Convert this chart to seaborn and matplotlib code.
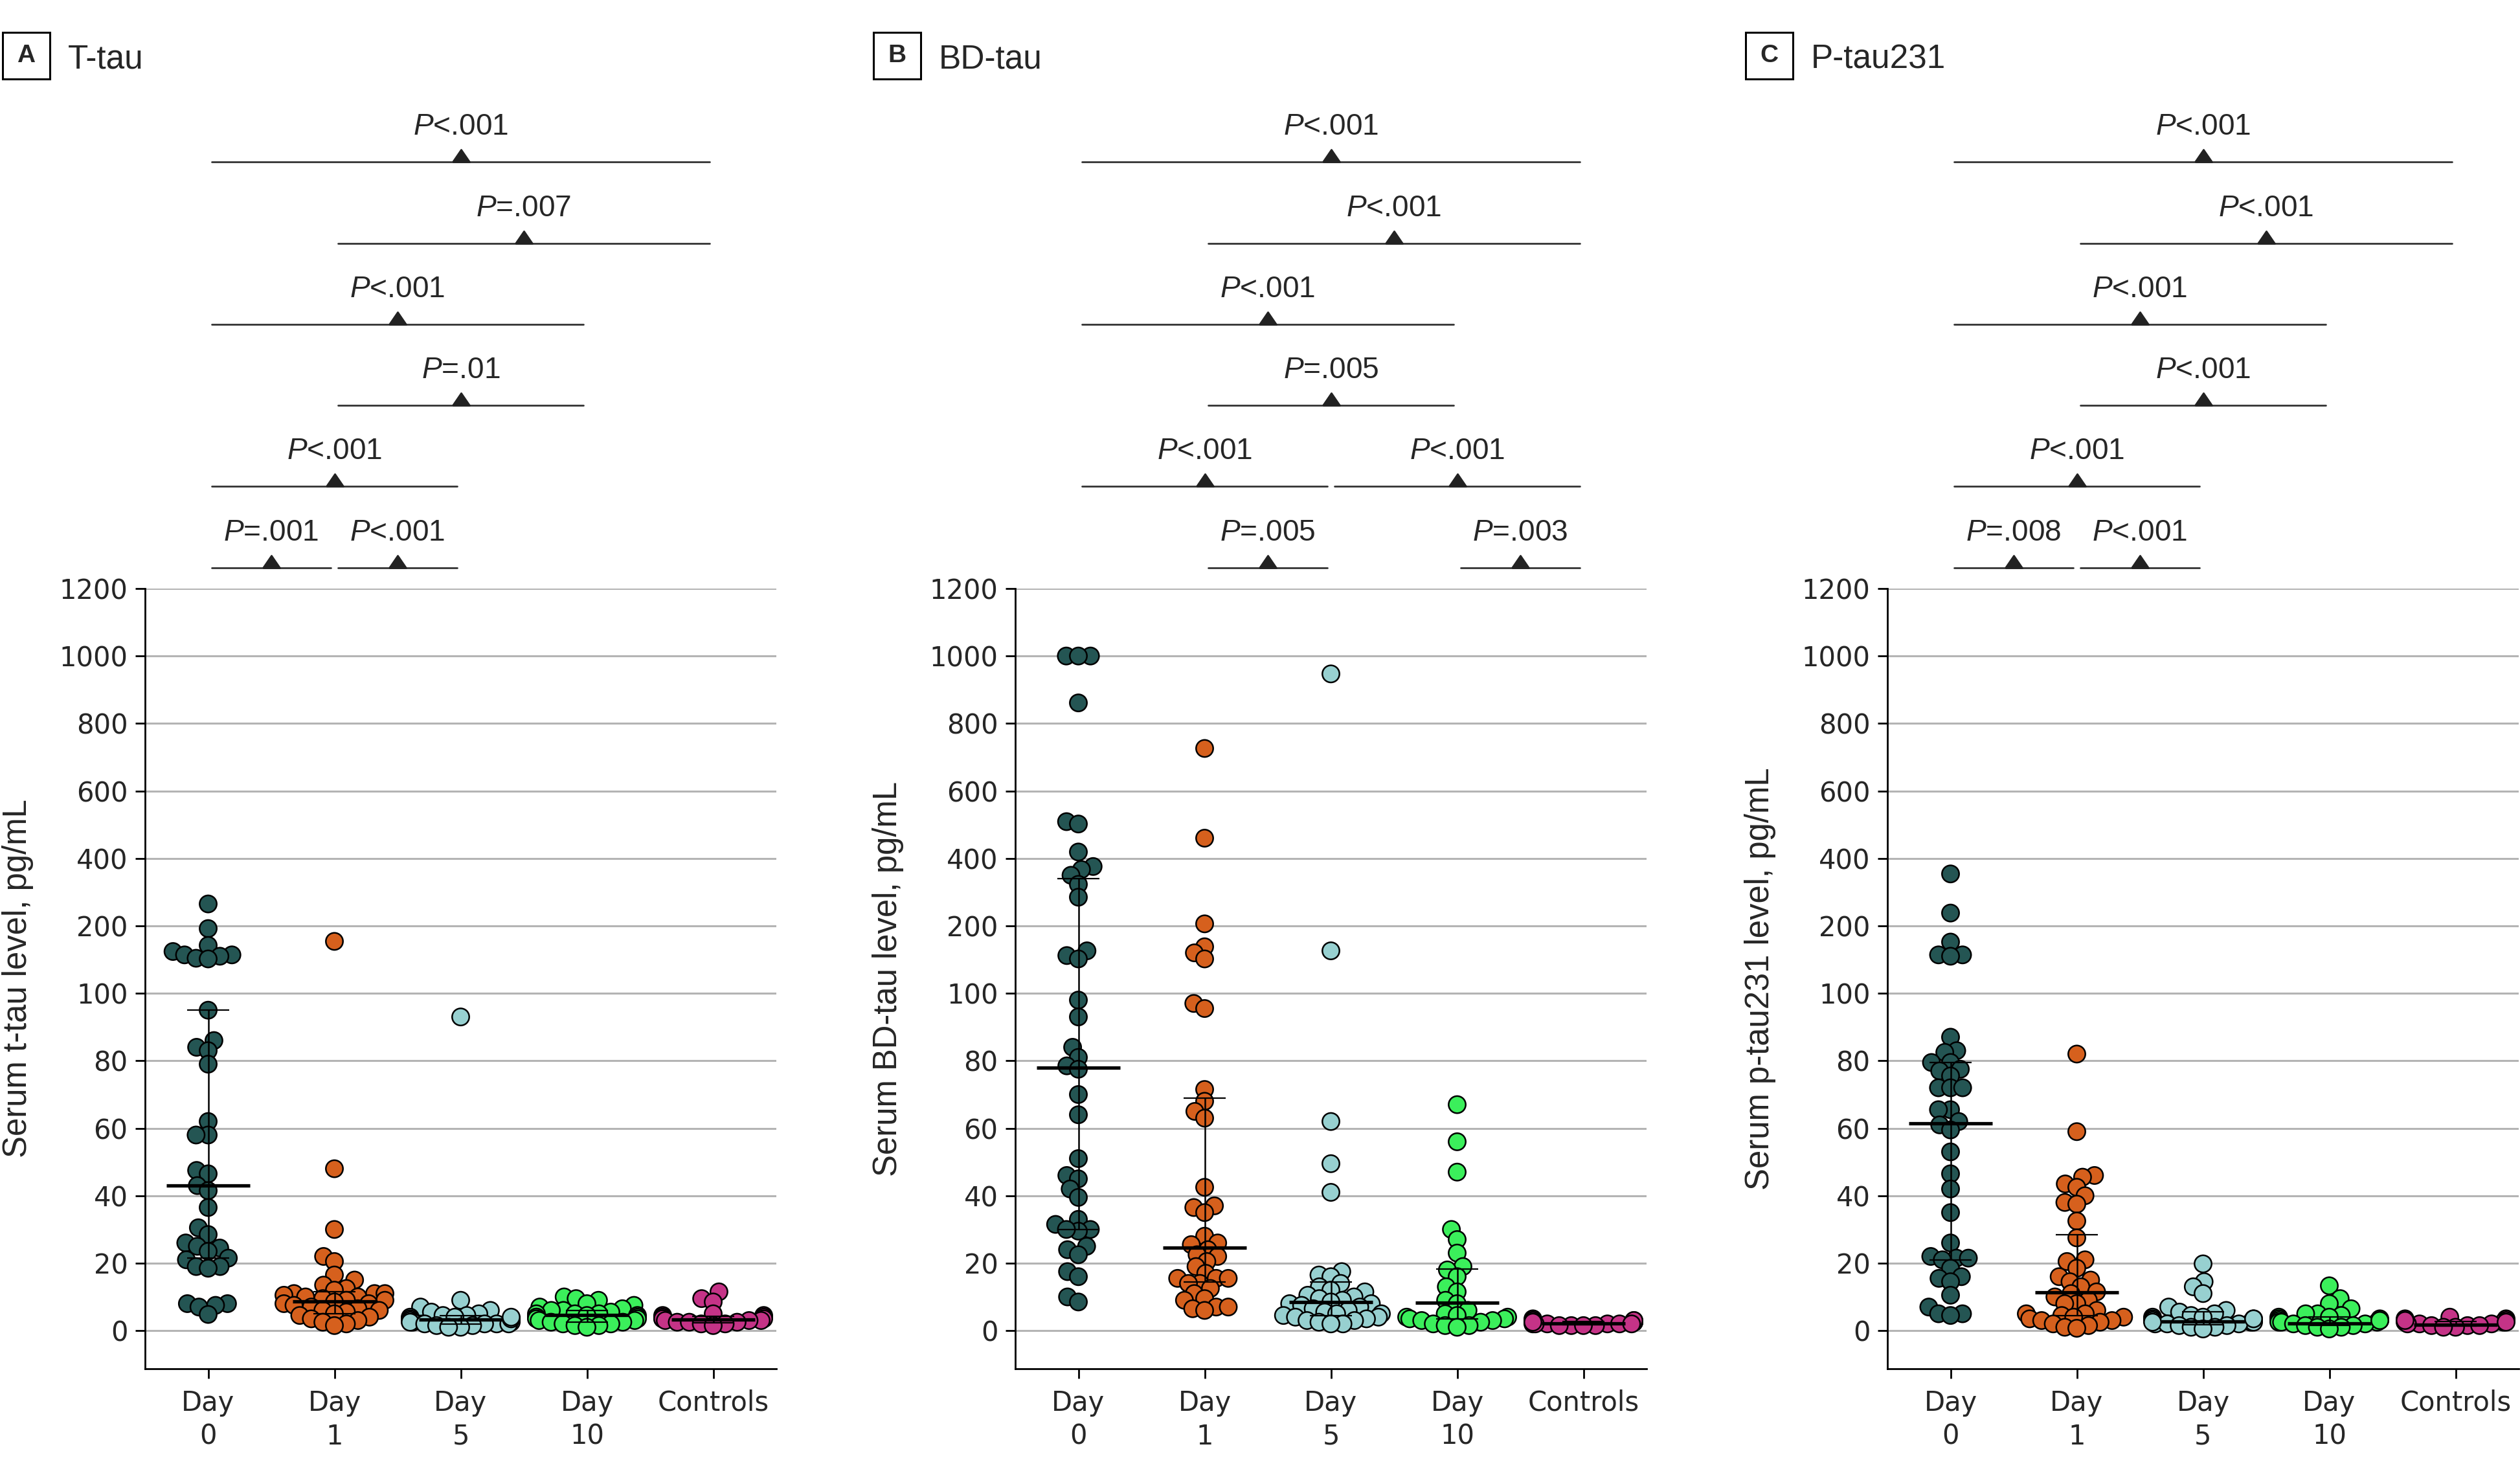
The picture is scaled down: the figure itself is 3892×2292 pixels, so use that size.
import warnings
import numpy as np
import pandas as pd
import matplotlib
matplotlib.use('Agg')
import matplotlib.pyplot as plt
import matplotlib.transforms as mtransforms
from matplotlib.patches import Rectangle
import seaborn as sns

warnings.filterwarnings('ignore')

# Groups and colours
groups = ['Day 0', 'Day 1', 'Day 5', 'Day 10', 'Controls']
tick_labels = ['Day\n0', 'Day\n1', 'Day\n5', 'Day\n10', 'Controls']
colors = ['#245553', '#d6601d', '#97d0d0', '#3bef5b', '#c53387']

# A: T-tau (pg/mL)
ttau_day0 = [265, 196, 171, 162, 157, 157, 155, 152, 151, 95, 86, 84, 83, 79, 62, 58, 58, 47.5, 46.5,
             43, 41.5, 36.5, 30.5, 28.5, 26, 25, 24.5, 23.5, 21.5, 21, 19, 19, 18.5, 8, 8, 7.5, 7, 4.8]
ttau_day1 = [177, 48, 30, 22, 20.5, 16.5, 15, 13.5, 12.5, 12, 11, 11, 11, 10.5, 10, 10, 9.5, 9, 9, 8.5,
             8, 8, 7.5, 7, 6.5, 6, 6, 5.5, 5, 4.5, 4, 3.5, 3, 2.5, 2, 1.5]
ttau_day5 = [93, 9, 7, 6, 5.5, 5, 4.5, 4.5, 4, 4, 3.5, 3.5, 3, 3, 3, 3, 2.5, 2.5, 2.5, 2, 2, 2, 2,
             1.5, 1.5, 1, 1, 3.5, 4]
ttau_day10 = [10, 9.5, 9, 8, 7.5, 7, 6.5, 6, 6, 5.5, 5, 5, 5, 4.5, 4.5, 4, 4, 4, 3.5, 3.5, 3, 3,
              2.5, 2.5, 2, 2, 1.5, 1.5, 1]
ttau_ctrl = [11.5, 9.5, 8.5, 5, 4.5, 4.5, 4, 4, 3.5, 3.5, 3.5, 3, 3, 3, 2.5, 2.5, 2.5, 2, 2, 1.5]
ttau_median = [43, 8.6, 3.2, 4.7, 3.2]
ttau_q1 = [21.5, 5, 2, 2.5, 2.3]
ttau_q3 = [95, 11.5, 4.5, 6, 4.3]

# B: BD-tau (pg/mL)
bd_day0 = [1000, 1000, 1000, 861, 509, 502, 419, 376, 367, 350, 323, 285, 163, 156, 151, 98, 93, 84,
           81, 78.5, 77.5, 70, 64, 51, 46, 45, 42, 39.5, 33, 31.5, 30, 29.5, 30, 25, 24, 22.5, 17.5,
           16, 10, 8.5]
bd_day1 = [726, 460, 206, 169, 160, 151, 97, 95.5, 71.5, 68, 65, 63, 42.5, 37, 36.5, 35, 28, 26, 25.5,
           24, 22.5, 22, 20.5, 19, 17, 15.5, 15.5, 15.5, 14, 14, 12.5, 11, 9.5, 9, 7, 7, 6.5, 6]
bd_day5 = [947, 163, 62, 49.5, 41, 17.5, 16.5, 16, 14, 13, 12, 11.5, 10.5, 10, 9.5, 9, 8.5, 8, 8,
           7.5, 7, 6.5, 6, 5.5, 5, 5, 4.5, 4, 4, 3.5, 3, 3, 2.5, 2, 2]
bd_day10 = [67, 56, 47, 30, 27, 23, 19, 18, 16, 13, 11.5, 9, 8, 6, 5, 4.5, 4, 4, 3.5, 3.5, 3, 3,
            2.5, 2, 1.5, 1.5, 1]
bd_ctrl = [3.5, 3, 3, 3, 2.5, 2.5, 2.5, 2.5, 2, 2, 2, 2, 2, 1.5, 1.5, 1.5, 2.5, 3, 2, 1.5]
bd_median = [78, 24.5, 8.5, 8.2, 2.2]
bd_q1 = [30, 14.5, 4.5, 3.5, 1.8]
bd_q3 = [341, 69, 14.5, 18.2, 2.7]

# C: P-tau231 (pg/mL)
pt_day0 = [354, 238, 176, 157, 157, 155, 87, 83, 82.5, 79.5, 79.5, 77.5, 77, 75.5, 72, 72, 72, 65.5,
           65.5, 62, 61, 59.5, 53, 46.5, 42, 35, 26, 22, 21.5, 21.5, 21, 18.5, 16, 15.5, 14.5, 10.5,
           7, 5, 5, 4.5]
pt_day1 = [82, 59, 46, 45.5, 43.5, 42.5, 40, 38, 37.5, 32.5, 27.5, 21, 20.5, 18.5, 16, 15, 14.5, 13,
           11.5, 11, 10, 9, 8, 8, 6, 5, 5, 4.5, 4, 4, 3.5, 3, 3, 2.5, 2, 1.5, 1, 0.7]
pt_day5 = [19.8, 14.5, 13, 11, 7, 6, 5.5, 5, 4.5, 4, 4, 3.5, 3.5, 3, 3, 3, 2.5, 2.5, 2, 2, 2, 1.5,
           1.5, 1, 1, 0.5, 2.5, 3.5]
pt_day10 = [13.3, 9.5, 8, 6.5, 5, 5, 4.5, 4, 4, 3.5, 3.5, 3, 3, 2.5, 2.5, 2.5, 2, 2, 1.5, 1.5, 1, 1,
            0.5, 3]
pt_ctrl = [4, 3.5, 3.5, 3, 3, 2.5, 2.5, 2, 2, 2, 1.5, 1.5, 1.5, 1, 1, 2.5, 3]
pt_median = [61.5, 11.3, 2.8, 2.2, 1.7]
pt_q1 = [21, 4.5, 1.8, 1.5, 1.3]
pt_q3 = [79.4, 28.5, 5.5, 4, 2.8]

# Pairwise comparisons: (left group, right group, row from top, P text)
ttau_brackets = [(0, 4, 0, '<.001'), (1, 4, 1, '=.007'), (0, 3, 2, '<.001'), (1, 3, 3, '=.01'),
                 (0, 2, 4, '<.001'), (0, 1, 5, '=.001'), (1, 2, 5, '<.001')]
bd_brackets = [(0, 4, 0, '<.001'), (1, 4, 1, '<.001'), (0, 3, 2, '<.001'), (1, 3, 3, '=.005'),
               (0, 2, 4, '<.001'), (2, 4, 4, '<.001'), (1, 2, 5, '=.005'), (3, 4, 5, '=.003')]
pt_brackets = [(0, 4, 0, '<.001'), (1, 4, 1, '<.001'), (0, 3, 2, '<.001'), (1, 3, 3, '<.001'),
               (0, 2, 4, '<.001'), (0, 1, 5, '=.008'), (1, 2, 5, '<.001')]

yticks = [0, 20, 40, 60, 80, 100, 200, 400, 600, 800, 1000, 1200]

# broken y axis: 0-100 by 20, 100-200 one step, 200-1200 by 200
knots_val = [-1000, 0, 100, 200, 1200, 100000]
knots_pos = [-50, 0, 5, 6, 11, 11 + (100000 - 1200) / 200]


def fwd(y):
    return np.interp(y, knots_val, knots_pos)


def inv(p):
    return np.interp(p, knots_pos, knots_val)


sns.set_style('ticks')
plt.rcParams['font.family'] = ['DejaVu Sans']
plt.rcParams['mathtext.fontset'] = 'custom'
plt.rcParams['mathtext.it'] = 'Liberation Sans:italic'
plt.rcParams['mathtext.rm'] = 'Liberation Sans'
label_font = ['Liberation Sans', 'DejaVu Sans']

marker_size = 9.5   # drawn marker diameter (pt)
layout_size = 5.5   # diameter used to pack the swarm, so markers overlap like the original

W, H = 3892, 2292
fig = plt.figure(figsize=(W / 200, H / 200), dpi=200)

panels = [
    ('A', 'T-tau', 'Serum t-tau level, pg/mL',
     [ttau_day0, ttau_day1, ttau_day5, ttau_day10, ttau_ctrl], ttau_median, ttau_q1, ttau_q3,
     ttau_brackets, 224),
    ('B', 'BD-tau', 'Serum BD-tau level, pg/mL',
     [bd_day0, bd_day1, bd_day5, bd_day10, bd_ctrl], bd_median, bd_q1, bd_q3, bd_brackets, 1568),
    ('C', 'P-tau231', 'Serum p-tau231 level, pg/mL',
     [pt_day0, pt_day1, pt_day5, pt_day10, pt_ctrl], pt_median, pt_q1, pt_q3, pt_brackets, 2915),
]

bracket_y = [0.8909, 0.8360, 0.7816, 0.7269, 0.6723, 0.6174]
tri = [(-1, 0), (1, 0), (0, 1.46), (-1, 0)]
swarm_axes = []

for letter, title, ylabel, values, med, q1, q3, brackets, left_px in panels:
    ax = fig.add_axes([left_px / W, 1 - 2114 / H, 975 / W, (2114 - 909) / H])
    ax.set_yscale('function', functions=(fwd, inv))

    df = pd.DataFrame({
        'group': np.repeat(groups, [len(v) for v in values]),
        'value': np.concatenate(values),
    })
    sns.swarmplot(data=df, x='group', y='value', hue='group', order=groups,
                  palette=dict(zip(groups, colors)), size=layout_size, linewidth=0.9,
                  edgecolor='black', legend=False, ax=ax, zorder=3)
    swarm_axes.append(ax)

    ax.set_yscale('function', functions=(fwd, inv))
    ax.set_ylim(-11.3, 1200)
    ax.set_xlim(-0.5, 4.5)
    ax.set_yticks(yticks)
    ax.set_yticklabels([str(t) for t in yticks], fontsize=15)
    ax.set_xticks(range(len(groups)))
    ax.set_xticklabels(tick_labels, fontsize=15, linespacing=1.3)
    ax.yaxis.grid(True, color='#b4b4b4', lw=1.1, zorder=0)
    ax.xaxis.grid(False)
    ax.set_axisbelow(True)
    sns.despine(ax=ax)
    for s in ['left', 'bottom']:
        ax.spines[s].set_linewidth(1.0)
        ax.spines[s].set_color('black')
    ax.tick_params(axis='both', length=5.5, width=1.0, color='black')
    ax.tick_params(axis='y', pad=4)
    ax.tick_params(axis='x', pad=6)
    ax.set_xlabel('')
    ax.set_ylabel(ylabel, fontsize=18.3, family=label_font)
    ax.yaxis.set_label_coords(-0.176, 0.5)

    # median with interquartile range
    for i in range(len(groups)):
        ax.vlines(i, q1[i], q3[i], color='black', lw=0.9, zorder=6)
        ax.hlines([q1[i], q3[i]], i - 0.165, i + 0.165, color='black', lw=0.8, zorder=6)
        ax.hlines(med[i], i - 0.33, i + 0.33, color='black', lw=1.9, zorder=6)

    # comparison brackets above the panel
    trans = mtransforms.blended_transform_factory(ax.transData, fig.transFigure)
    for g0, g1, row, ptxt in brackets:
        yb = bracket_y[row]
        ax.plot([g0 + 0.03, g1 - 0.03], [yb, yb], color='#333333', lw=1.0,
                transform=trans, clip_on=False)
        xm = (g0 + g1) / 2
        ax.plot([xm], [yb], marker=tri, markersize=13.7, color='#222222', lw=0,
                transform=trans, clip_on=False)
        ax.text(xm, yb + 0.0183, r'$\mathit{P}$' + ptxt, ha='center', va='baseline',
                fontsize=16.6, family=label_font, transform=trans)

    # panel letter box and title
    bx = left_px - 220 if letter == 'A' else left_px - 219
    fig.patches.append(Rectangle((bx / W, 1 - 122 / H), 73 / W, 72 / H, fill=False,
                                 ec='black', lw=1.1, transform=fig.transFigure, figure=fig))
    fig.text((bx + 36.5) / W, 1 - 86 / H, letter, ha='center', va='center', fontsize=14,
             fontweight='bold', family=label_font)
    fig.text((bx + 101) / W, 1 - 105 / H, title, ha='left', va='baseline', fontsize=18.5,
             family=label_font)

# pack the swarms once with the small size, then freeze them and enlarge the markers
fig.canvas.draw()
for ax in swarm_axes:
    for coll in ax.collections:
        if 'draw' in coll.__dict__:
            del coll.__dict__['draw']
            coll.set_sizes([marker_size ** 2])

fig.savefig('out.png', dpi=200)
